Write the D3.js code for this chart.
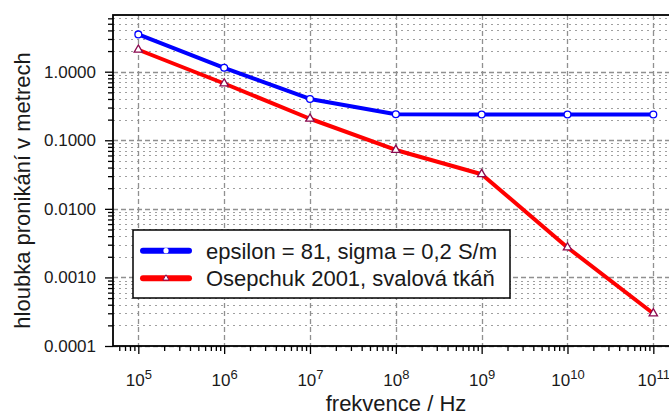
<!DOCTYPE html>
<html><head><meta charset="utf-8">
<script src="https://cdn.jsdelivr.net/npm/d3@7"></script>
<style>
html,body{margin:0;padding:0;background:#fff;}
svg{display:block;font-family:"Liberation Sans",Arial,Helvetica,sans-serif;}
</style></head>
<body>
<svg id="chart" width="669" height="417"></svg>
<script>
// ---- data ----
const frequencies = [1e5, 1e6, 1e7, 1e8, 1e9, 1e10, 1e11];
const xExponents = ["5", "6", "7", "8", "9", "10", "11"];
const seriesNames = ["epsilon = 81, sigma = 0,2 S/m", "Osepchuk 2001, svalová tkáň"];
const epsilonValues = [3.5, 1.14, 0.40, 0.239, 0.238, 0.238, 0.238];
const osepchukValues = [2.09, 0.673, 0.206, 0.0722, 0.032, 0.00273, 0.000298];
const yTickValues = [1e-4, 1e-3, 1e-2, 1e-1, 1];
const yTickLabels = ["0.0001", "0.0010", "0.0100", "0.1000", "1.0000"];
const xTitle = "frekvence / Hz";
const yTitle = "hloubka pronikání v metrech";

// ---- layout ----
const FONT = "Liberation Sans, Arial, Helvetica, sans-serif";
const svg = d3.select("#chart");
const L = 113, R = 671, T = 15, B = 346;
const x = d3.scaleLog().domain([Math.pow(10, 4.705), Math.pow(10, 11.206)]).range([L, R]);
const y = d3.scaleLog().domain([1e-4, Math.pow(10, 0.8268)]).range([B, T]);

const minorY = [];
for (let k = -4; k <= 0; k++) for (let m = 2; m <= 9; m++) {
  const v = m * Math.pow(10, k);
  if (v <= y.domain()[1]) minorY.push(v);
}
const minorX = [];
for (let k = 4; k <= 11; k++) for (let m = 2; m <= 9; m++) {
  const v = m * Math.pow(10, k);
  if (v >= x.domain()[0] && v <= x.domain()[1]) minorX.push(v);
}

// background
svg.append("rect").attr("x", L).attr("y", T).attr("width", R - L).attr("height", B - T).attr("fill", "#fff");

// grid
const grid = svg.append("g");
grid.selectAll(".gmy").data(minorY).join("line")
  .attr("x1", L).attr("x2", R).attr("y1", d => Math.round(y(d)) + 0.5).attr("y2", d => Math.round(y(d)) + 0.5)
  .attr("stroke", "#a0a0a0").attr("stroke-width", 1.2).attr("stroke-dasharray", "2,4");
grid.selectAll(".gMy").data(yTickValues).join("line")
  .attr("x1", L).attr("x2", R).attr("y1", d => Math.round(y(d)) + 0.5).attr("y2", d => Math.round(y(d)) + 0.5)
  .attr("stroke", "#909090").attr("stroke-width", 1.3).attr("stroke-dasharray", "5,3");
grid.selectAll(".gMx").data(frequencies).join("line")
  .attr("y1", T).attr("y2", B).attr("x1", d => Math.round(x(d)) + 0.5).attr("x2", d => Math.round(x(d)) + 0.5)
  .attr("stroke", "#909090").attr("stroke-width", 1.3).attr("stroke-dasharray", "5,3");

// axes
const yMinorAxis = svg.append("g").attr("transform", `translate(${L},0)`)
  .call(d3.axisLeft(y).tickValues(minorY).tickSize(5).tickFormat(""));
const yAxis = svg.append("g").attr("transform", `translate(${L},0)`)
  .call(d3.axisLeft(y).tickValues(yTickValues).tickSize(8).tickPadding(9)
    .tickFormat((d, i) => yTickLabels[i]));
const xMinorAxis = svg.append("g").attr("transform", `translate(0,${B})`)
  .call(d3.axisBottom(x).tickValues(minorX).tickSize(5).tickFormat(""));
const xAxis = svg.append("g").attr("transform", `translate(0,${B})`)
  .call(d3.axisBottom(x).tickValues(frequencies).tickSize(8).tickFormat(""));

[yMinorAxis, yAxis, xMinorAxis, xAxis].forEach(g => {
  g.attr("font-family", FONT);
  g.select(".domain").remove();
  g.selectAll(".tick line").attr("stroke", "#000").attr("stroke-width", 1.3);
});
yAxis.selectAll(".tick text").attr("font-size", 17).attr("fill", "#1a1a1a");

xAxis.selectAll(".tick").each(function (d, i) {
  const t = d3.select(this).append("text").attr("y", 39.7).attr("text-anchor", "middle")
    .attr("fill", "#1a1a1a").attr("font-size", 17).attr("font-family", FONT);
  t.append("tspan").text("10");
  t.append("tspan").attr("dy", -6.5).attr("font-size", 13).text(xExponents[i]);
});

// frame
svg.append("rect").attr("x", L).attr("y", T).attr("width", R - L).attr("height", B - T)
  .attr("fill", "none").attr("stroke", "#000").attr("stroke-width", 1.8);

// series
const lineGen = d3.line().x((d, i) => x(frequencies[i])).y(d => y(d));
svg.append("path").datum(epsilonValues).attr("d", lineGen)
  .attr("fill", "none").attr("stroke", "#0000ff").attr("stroke-width", 4).attr("stroke-linejoin", "round");
svg.append("path").datum(osepchukValues).attr("d", lineGen)
  .attr("fill", "none").attr("stroke", "#ff0000").attr("stroke-width", 4).attr("stroke-linejoin", "round");

svg.selectAll(".cm").data(epsilonValues).join("circle")
  .attr("cx", (d, i) => x(frequencies[i])).attr("cy", d => y(d)).attr("r", 3.4)
  .attr("fill", "#fff").attr("stroke", "#0000ff").attr("stroke-width", 1.3);
const tri = d3.symbol().type(d3.symbolTriangle).size(30);
svg.selectAll(".tm").data(osepchukValues).join("path")
  .attr("d", tri).attr("transform", (d, i) => `translate(${x(frequencies[i])},${y(d)})`)
  .attr("fill", "#fff").attr("stroke", "#8b0a50").attr("stroke-width", 1.3);

// legend
const lg = svg.append("g").attr("font-family", FONT);
lg.append("rect").attr("x", 133).attr("y", 230).attr("width", 377).attr("height", 68)
  .attr("fill", "#fff").attr("stroke", "#000").attr("stroke-width", 1.5);
const legendRows = [
  {name: seriesNames[0], color: "#0000ff", yy: 250.7, marker: "circle"},
  {name: seriesNames[1], color: "#ff0000", yy: 278.3, marker: "tri"}
];
legendRows.forEach(r => {
  lg.append("line").attr("x1", 143).attr("x2", 189).attr("y1", r.yy).attr("y2", r.yy)
    .attr("stroke", r.color).attr("stroke-width", 6).attr("stroke-linecap", "round");
  if (r.marker === "circle") {
    lg.append("circle").attr("cx", 166).attr("cy", r.yy).attr("r", 2.6).attr("fill", "#fff");
  } else {
    lg.append("path").attr("d", d3.symbol().type(d3.symbolTriangle).size(16))
      .attr("transform", `translate(166,${r.yy})`).attr("fill", "#fff")
      .attr("stroke", "#8b0a50").attr("stroke-width", 1);
  }
  lg.append("text").attr("x", 206).attr("y", r.yy).attr("dy", "0.36em")
    .attr("font-size", 22).attr("fill", "#1a1a1a").text(r.name);
});

// titles
svg.append("text").attr("x", 396).attr("y", 411).attr("text-anchor", "middle")
  .attr("font-family", FONT).attr("font-size", 22).attr("fill", "#1a1a1a").text(xTitle);
svg.append("text").attr("transform", "translate(30,190.5) rotate(-90)").attr("text-anchor", "middle")
  .attr("font-family", FONT).attr("font-size", 22).attr("fill", "#1a1a1a").text(yTitle);
</script>
</body></html>
